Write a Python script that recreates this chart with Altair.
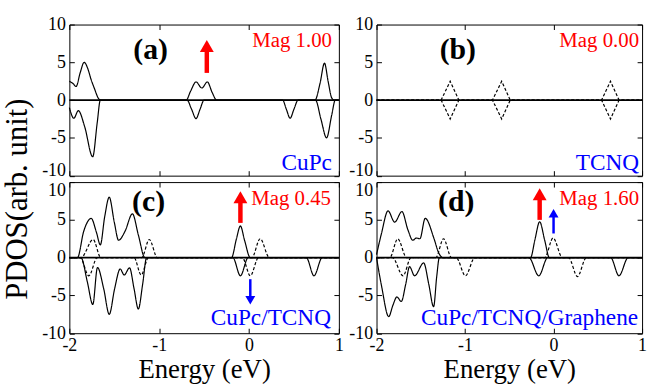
import altair as alt
import pandas as pd

# ---------------- data ----------------
X_TICKS = [-2, -1, 0, 1]
Y_TICKS = [-10, -5, 0, 5, 10]
E_RANGE = [-2, 1]
V_RANGE = [-10, 10]

# panel (a) CuPc
A_CU_UP_E = [-2.0, -1.96, -1.925, -1.88, -1.835, -1.79, -1.76, -1.72, -1.68, -1.65,
             -0.70, -0.65, -0.59, -0.525, -0.464, -0.41, -0.36,
             0.734, 0.79, 0.84, 0.88, 0.92, 0.95, 1.0]
A_CU_UP_V = [2.5, 2.2, 1.8, 3.6, 5.0, 4.0, 2.8, 1.5, 0.3, 0.0,
             0.0, 1.2, 2.4, 1.6, 2.4, 1.0, 0.0,
             0.0, 2.2, 4.9, 2.5, 0.3, 0.0, 0.0]
A_CU_DN_E = [-2.0, -1.95, -1.90, -1.83, -1.74, -1.69, -1.655,
             -0.69, -0.64, -0.59, -0.545, -0.50,
             0.374, 0.415, 0.458, 0.50, 0.547,
             0.74, 0.80, 0.863, 0.92, 0.96, 1.0]
A_CU_DN_V = [-1.0, -2.4, -1.4, -3.5, -7.5, -3.0, 0.0,
             0.0, -1.2, -2.45, -1.2, 0.0,
             0.0, -1.2, -2.4, -1.2, 0.0,
             0.0, -2.5, -5.0, -2.0, 0.0, 0.0]

# panel (b) TCNQ
B_TC_UP_E = [-2.0, -1.27, -1.168, -1.07, -0.69, -0.586, -0.49, 0.542, 0.643, 0.74, 1.0]
B_TC_UP_V = [0, 0, 2.5, 0, 0, 2.5, 0, 0, 2.5, 0, 0]
B_TC_DN_E = [-2.0, -1.27, -1.168, -1.07, -0.69, -0.586, -0.49, 0.542, 0.643, 0.74, 1.0]
B_TC_DN_V = [0, 0, -2.5, 0, 0, -2.5, 0, 0, -2.5, 0, 0]

# panel (c) CuPc/TCNQ
C_CU_UP_E = [-2.0, -1.91, -1.84, -1.757, -1.70, -1.655, -1.607, -1.556, -1.50, -1.452,
             -1.38, -1.298, -1.232, -1.159, -0.195, -0.14, -0.096, -0.05, 0.014, 1.0]
C_CU_UP_V = [0, 0, 3.5, 5.2, 3.4, 1.7, 5.4, 8.0, 4.7, 2.3,
             3.5, 5.8, 3.0, 0, 0, 2.5, 4.2, 2.3, 0, 0]
C_CU_DN_E = [-2.0, -1.87, -1.80, -1.739, -1.687, -1.618, -1.556, -1.496, -1.434, -1.39,
             -1.33, -1.28, -1.232, -1.184, -1.14, -0.18, -0.096, -0.01, 0.638, 0.723, 0.815, 1.0]
C_CU_DN_V = [0, 0, -3.2, -6.2, -1.3, -4.1, -7.5, -4.1, -1.5, -2.3,
             -1.35, -4.1, -6.8, -3.5, 0, 0, -2.4, 0, 0, -2.4, 0, 0]
C_TC_UP_E = [-2.0, -1.87, -1.735, -1.65, -1.195, -1.11, -1.02, 0.032, 0.124, 0.227, 1.0]
C_TC_UP_V = [0, 0, 2.4, 0, 0, 2.4, 0, 0, 2.5, 0, 0]
C_TC_DN_E = [-2.0, -1.88, -1.783, -1.69, -1.28, -1.2, -1.12, -0.074, 0.014, 0.106, 1.0]
C_TC_DN_V = [0, 0, -2.4, 0, 0, -2.3, 0, 0, -2.4, 0, 0]

# panel (d) CuPc/TCNQ/Graphene
D_CU_UP_E = [-2.0, -1.944, -1.87, -1.795, -1.713, -1.646, -1.59, -1.55, -1.51, -1.45,
             -1.35, -1.30, -1.25, -0.26, -0.21, -0.157, -0.10, -0.047, 1.0]
D_CU_UP_V = [0.4, 3.2, 6.2, 4.7, 6.1, 3.7, 2.3, 2.6, 2.5, 5.2,
             2.5, 0.7, 0, 0, 2.4, 4.75, 2.3, 0, 0]
D_CU_DN_E = [-2.0, -1.944, -1.862, -1.815, -1.77, -1.72, -1.67, -1.627, -1.57, -1.467,
             -1.41, -1.355, -1.32, -1.29, -0.278, -0.167, -0.066, 0.645, 0.739, 0.843, 1.0]
D_CU_DN_V = [0, -3.7, -7.8, -6.3, -5.2, -5.8, -3.5, -1.2, -2.4, -0.7,
             -3.5, -6.5, -2.5, 0, 0, -2.4, 0, 0, -2.4, 0, 0]
D_TC_UP_E = [-2.0, -1.85, -1.76, -1.66, -1.33, -1.243, -1.153, -0.10, -0.005, 0.10, 1.0]
D_TC_UP_V = [0, 0, 2.5, 0, 0, 2.5, 0, 0, 2.6, 0, 0]
D_TC_DN_E = [-2.0, -1.82, -1.70, -1.61, -1.10, -0.995, -0.89, 0.17, 0.27, 0.37, 1.0]
D_TC_DN_V = [0, 0, -2.4, 0, 0, -2.4, 0, 0, -2.5, 0, 0]

# annotations (data coordinates)
PANELS = ["a", "b", "c", "d"]
LETTERS = ["(a)", "(b)", "(c)", "(d)"]
LETTER_E = [-1.096, -1.082, -1.118, -1.10]
LETTER_V = [6.6, 6.6, 7.3, 7.3]
MAG_TEXT = ["Mag 1.00", "Mag 0.00", "Mag 0.45", "Mag 1.60"]
MAG_E = [0.923, 0.966, 0.912, 0.966]
MAG_V = [7.8, 7.8, 7.8, 7.8]
NAME_TEXT = ["CuPc", "TCNQ", "CuPc/TCNQ", "CuPc/TCNQ/Graphene"]
NAME_E = [0.923, 0.966, 0.912, 0.955]
NAME_V = [-8.3, -8.3, -8.05, -8.05]

# arrows: panel, energy, tail, tip
RED_UP_PANEL = ["a", "c", "d"]
RED_UP_E = [-0.47, -0.096, -0.157]
RED_UP_TAIL = [3.6, 4.6, 5.0]
RED_UP_TIP = [7.95, 8.8, 9.2]
BLUE_UP_PANEL = ["d"]
BLUE_UP_E = [0.0]
BLUE_UP_TAIL = [3.2]
BLUE_UP_TIP = [6.45]
BLUE_DN_PANEL = ["c"]
BLUE_DN_E = [0.014]
BLUE_DN_TAIL = [-2.85]
BLUE_DN_TIP = [-6.2]

# ---------------- tables ----------------
rows = []
def add(panel, name, dash, es, vs):
    for e, v in zip(es, vs):
        rows.append(dict(panel=panel, series=name, dash=dash, E=e, v=v))

add("a", "cu_up", "solid", A_CU_UP_E, A_CU_UP_V)
add("a", "cu_dn", "solid", A_CU_DN_E, A_CU_DN_V)
add("b", "tc_up", "dashed", B_TC_UP_E, B_TC_UP_V)
add("b", "tc_dn", "dashed", B_TC_DN_E, B_TC_DN_V)
add("c", "cu_up", "solid", C_CU_UP_E, C_CU_UP_V)
add("c", "cu_dn", "solid", C_CU_DN_E, C_CU_DN_V)
add("c", "tc_up", "dashed", C_TC_UP_E, C_TC_UP_V)
add("c", "tc_dn", "dashed", C_TC_DN_E, C_TC_DN_V)
add("d", "cu_up", "solid", D_CU_UP_E, D_CU_UP_V)
add("d", "cu_dn", "solid", D_CU_DN_E, D_CU_DN_V)
add("d", "tc_up", "dashed", D_TC_UP_E, D_TC_UP_V)
add("d", "tc_dn", "dashed", D_TC_DN_E, D_TC_DN_V)
lines = pd.DataFrame(rows)

letters = pd.DataFrame(dict(panel=PANELS, label=LETTERS, E=LETTER_E, v=LETTER_V))
mags = pd.DataFrame(dict(panel=PANELS, label=MAG_TEXT, E=MAG_E, v=MAG_V))
names = pd.DataFrame(dict(panel=PANELS, label=NAME_TEXT, E=NAME_E, v=NAME_V))
red_up = pd.DataFrame(dict(panel=RED_UP_PANEL, E=RED_UP_E, tail=RED_UP_TAIL, tip=RED_UP_TIP))
blue_up = pd.DataFrame(dict(panel=BLUE_UP_PANEL, E=BLUE_UP_E, tail=BLUE_UP_TAIL, tip=BLUE_UP_TIP))
blue_dn = pd.DataFrame(dict(panel=BLUE_DN_PANEL, E=BLUE_DN_E, tail=BLUE_DN_TAIL, tip=BLUE_DN_TIP))
zero = pd.DataFrame(dict(v=[0]))
frame = pd.DataFrame(dict(E=E_RANGE, v=V_RANGE))

FONT = "Liberation Serif"
TICK = 5


def panel(pid, width, height, show_x, interp, flush_value, flush_baseline):
    xs = alt.Scale(domain=E_RANGE, nice=False, zero=False)
    ys = alt.Scale(domain=V_RANGE, nice=False, zero=False)
    common = dict(domain=False, grid=False, tickSize=TICK, offset=-TICK,
                  tickColor="black", tickWidth=1,
                  labelFont=FONT, labelFontSize=18, labelColor="black",
                  titleFont=FONT, titleFontSize=27, titleFontWeight="normal",
                  titleColor="black")
    x_bottom = alt.Axis(orient="bottom", values=X_TICKS, labels=show_x,
                        title="Energy (eV)" if show_x else None,
                        labelExpr="toString(datum.value)", labelFlush=False,
                        labelPadding=3, titlePadding=3, **common)
    y_left = alt.Axis(orient="left", values=Y_TICKS, title=None,
                      labelExpr="toString(datum.value)", labelPadding=4,
                      labelBaseline={"condition": {"test": f"datum.value == {flush_value}",
                                                   "value": flush_baseline},
                                     "value": "middle"},
                      **common)
    x_top = alt.Axis(orient="top", values=X_TICKS, labels=False, title=None, **common)
    y_right = alt.Axis(orient="right", values=Y_TICKS, labels=False, title=None, **common)

    d = lines[lines.panel == pid]
    curves = alt.Chart(d).mark_line(interpolate=interp, strokeWidth=1.2, color="black").encode(
        x=alt.X("E:Q", scale=xs, axis=x_bottom),
        y=alt.Y("v:Q", scale=ys, axis=y_left),
        detail="series:N",
        strokeDash=alt.StrokeDash("dash:N", legend=None,
                                  scale=alt.Scale(domain=["solid", "dashed"],
                                                  range=[[1, 0], [3, 2]])),
    )
    ticks = alt.Chart(frame).mark_point(opacity=0).encode(
        x=alt.X("E:Q", scale=xs, axis=x_top),
        y=alt.Y("v:Q", scale=ys, axis=y_right),
    )
    zline = alt.Chart(zero).mark_rule(strokeWidth=1.8, color="black").encode(
        y=alt.Y("v:Q", scale=ys, axis=None)
    )

    def txt(df, **kw):
        return alt.Chart(df[df.panel == pid]).mark_text(font=FONT, baseline="middle", **kw).encode(
            x=alt.X("E:Q", scale=xs, axis=None),
            y=alt.Y("v:Q", scale=ys, axis=None),
            text="label:N",
        )

    layers = [zline, curves, ticks,
              txt(letters, fontSize=30, fontWeight="bold", align="center", color="black"),
              txt(mags, fontSize=21, align="right", color="#ff0000"),
              txt(names, fontSize=23.5, align="right", color="#0000ff")]

    def arrow(df, color, sw, size, up):
        sub = df[df.panel == pid]
        if len(sub) == 0:
            return []
        h = 0.866 * size ** 0.5 / 2
        off = h if up else -h
        shaft = alt.Chart(sub).mark_rule(color=color, strokeWidth=sw, y2Offset=off).encode(
            x=alt.X("E:Q", scale=xs, axis=None),
            y=alt.Y("tail:Q", scale=ys, axis=None),
            y2="tip:Q",
        )
        head = alt.Chart(sub).mark_point(shape="triangle-up" if up else "triangle-down",
                                         filled=True, opacity=1, color=color,
                                         size=size, yOffset=off, strokeWidth=0).encode(
            x=alt.X("E:Q", scale=xs, axis=None),
            y=alt.Y("tip:Q", scale=ys, axis=None),
        )
        return [shaft, head]

    layers += arrow(red_up, "#ff0000", 4.5, 196, True)
    layers += arrow(blue_up, "#0000ff", 2.5, 100, True)
    layers += arrow(blue_dn, "#0000ff", 2.5, 100, False)

    return alt.layer(*layers).properties(width=width, height=height).resolve_axis(
        x="independent", y="independent")


pa = panel("a", 272, 152.5, False, "monotone", -10, "alphabetic")
pb = panel("b", 268, 152.5, False, "linear", -10, "alphabetic")
pc = panel("c", 272, 152.5, True, "monotone", 10, "top")
pd_ = panel("d", 268, 152.5, True, "monotone", 10, "top")

chart = alt.concat(pa, pb, pc, pd_, columns=2, spacing={"row": 6, "column": 38},
                   bounds="flush").properties(
    title=alt.TitleParams(text="PDOS(arb. unit)", orient="left", anchor="middle",
                          font=FONT, fontSize=31, fontWeight="normal", color="black",
                          offset=7),
    padding={"left": 2, "top": 13, "right": 3, "bottom": 0},
).configure_view(stroke="black", strokeWidth=1)

chart.save("out.html", embed_options={"renderer": "svg", "actions": False})
